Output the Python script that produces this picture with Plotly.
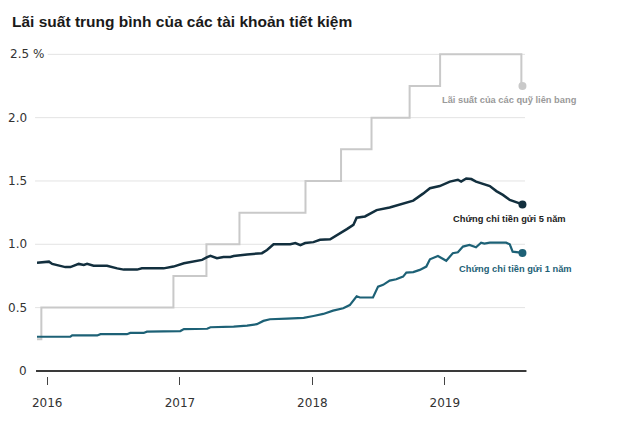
import plotly.graph_objects as go

# ---------------- data ----------------
fed_dates = ["2015-12-04", "2015-12-16", "2016-12-14", "2017-03-15", "2017-06-14",
             "2017-12-13", "2018-03-21", "2018-06-13", "2018-09-26", "2018-12-19",
             "2019-07-31", "2019-08-03"]
fed_values = [0.25, 0.50, 0.75, 1.00, 1.25, 1.50, 1.75, 2.00, 2.25, 2.50, 2.25, 2.25]

cd5_dates = ["2015-12-04", "2016-01-06", "2016-01-15", "2016-02-20", "2016-03-05",
             "2016-03-28", "2016-04-11", "2016-04-20", "2016-05-08", "2016-06-14",
             "2016-07-12", "2016-07-30", "2016-09-05", "2016-09-18", "2016-11-17",
             "2016-12-14", "2017-01-12", "2017-02-08", "2017-03-03", "2017-03-17",
             "2017-03-26", "2017-04-13", "2017-05-01", "2017-05-20", "2017-05-29",
             "2017-07-05", "2017-08-15", "2017-08-29", "2017-09-16", "2017-11-01",
             "2017-11-15", "2017-11-29", "2017-12-12", "2018-01-04", "2018-01-22",
             "2018-02-19", "2018-03-09", "2018-04-06", "2018-04-24", "2018-05-03",
             "2018-05-26", "2018-06-13", "2018-06-27", "2018-08-02", "2018-09-08",
             "2018-10-06", "2018-11-02", "2018-11-21", "2018-12-18", "2019-01-15",
             "2019-02-06", "2019-02-15", "2019-03-01", "2019-03-15", "2019-03-28",
             "2019-04-16", "2019-05-05", "2019-05-23", "2019-06-10", "2019-06-29",
             "2019-07-17", "2019-08-03"]
cd5_values = [0.855, 0.863, 0.845, 0.820, 0.820,
              0.845, 0.837, 0.845, 0.830, 0.830,
              0.810, 0.800, 0.800, 0.810, 0.810,
              0.824, 0.850, 0.863, 0.877, 0.898,
              0.908, 0.890, 0.900, 0.900, 0.908,
              0.920, 0.930, 0.955, 1.000, 1.000,
              1.010, 0.993, 1.010, 1.017, 1.035,
              1.040, 1.074, 1.120, 1.153, 1.210,
              1.220, 1.245, 1.270, 1.290, 1.320,
              1.345, 1.400, 1.443, 1.460, 1.495,
              1.510, 1.495, 1.520, 1.515, 1.495,
              1.480, 1.460, 1.420, 1.390, 1.350,
              1.330, 1.315]

cd1_dates = ["2015-12-04", "2016-03-05", "2016-03-10", "2016-05-18", "2016-05-27",
             "2016-08-08", "2016-08-17", "2016-09-23", "2016-10-02", "2017-01-02",
             "2017-01-12", "2017-03-17", "2017-03-26", "2017-05-20", "2017-05-29",
             "2017-07-05", "2017-08-01", "2017-08-19", "2017-09-06", "2017-10-23",
             "2017-12-08", "2018-01-04", "2018-01-31", "2018-02-27", "2018-03-27",
             "2018-04-14", "2018-05-03", "2018-05-12", "2018-06-17", "2018-07-01",
             "2018-07-15", "2018-08-02", "2018-08-20", "2018-09-08", "2018-09-17",
             "2018-10-06", "2018-10-24", "2018-11-11", "2018-11-21", "2018-12-13",
             "2019-01-05", "2019-01-23", "2019-02-06", "2019-02-20", "2019-03-10",
             "2019-03-28", "2019-04-11", "2019-04-20", "2019-05-05", "2019-06-19",
             "2019-06-29", "2019-07-07", "2019-07-21", "2019-08-03"]
cd1_values = [0.270, 0.270, 0.280, 0.280, 0.290,
              0.290, 0.300, 0.300, 0.310, 0.315,
              0.330, 0.333, 0.345, 0.345, 0.350,
              0.358, 0.369, 0.395, 0.408, 0.413,
              0.419, 0.434, 0.450, 0.476, 0.495,
              0.520, 0.590, 0.580, 0.580, 0.666,
              0.680, 0.713, 0.724, 0.745, 0.776,
              0.780, 0.798, 0.824, 0.882, 0.908,
              0.870, 0.930, 0.937, 0.982, 0.995,
              0.977, 1.013, 1.005, 1.013, 1.013,
              1.000, 0.942, 0.937, 0.932]

y_ticks = [0, 0.5, 1.0, 1.5, 2.0, 2.5]
y_tick_labels = ["0", "0.5", "1.0", "1.5", "2.0", "2.5 %"]
x_ticks = ["2016-01-01", "2017-01-01", "2018-01-01", "2019-01-01"]
x_tick_labels = ["2016", "2017", "2018", "2019"]

title_text = "Lãi suất trung bình của các tài khoản tiết kiệm"
fed_label = "Lãi suất của các quỹ liên bang"
cd5_label = "Chứng chỉ tiền gửi 5 năm"
cd1_label = "Chứng chỉ tiền gửi 1 năm"

# ---------------- styles ----------------
FED_C = "#c9c9c9"
CD5_C = "#122f3e"
CD1_C = "#1d6176"
GRID_C = "#e3e3e3"
TXT_C = "#333333"
FONT = "DejaVu Sans"
W, H = 622, 420  # page body has an 8px margin

fig = go.Figure()

fig.add_trace(go.Scatter(x=fed_dates, y=fed_values, mode="lines", line_shape="hv",
                         line=dict(color=FED_C, width=2), showlegend=False))
fig.add_trace(go.Scatter(x=cd1_dates, y=cd1_values, mode="lines",
                         line=dict(color=CD1_C, width=2.2), showlegend=False))
fig.add_trace(go.Scatter(x=cd5_dates, y=cd5_values, mode="lines",
                         line=dict(color=CD5_C, width=2.5), showlegend=False))

# end dots
for xs, ys, c in [(fed_dates, fed_values, FED_C), (cd5_dates, cd5_values, CD5_C),
                  (cd1_dates, cd1_values, CD1_C)]:
    fig.add_trace(go.Scatter(x=[xs[-1]], y=[ys[-1]], mode="markers",
                             marker=dict(color=c, size=8), showlegend=False, cliponaxis=False))

shapes = []
for v in y_ticks:
    if v == 0:
        continue
    x0 = 0.022 if v == 2.5 else -0.004
    shapes.append(dict(type="line", xref="paper", yref="y", x0=x0, x1=1, y0=v, y1=v,
                       line=dict(color=GRID_C, width=1), layer="below"))
shapes.append(dict(type="line", xref="paper", yref="y", x0=-0.002, x1=1.003, y0=0, y1=0,
                   line=dict(color="#3a3a3a", width=2)))

annotations = []
for v, t in zip(y_ticks, y_tick_labels):
    if t.endswith("%"):
        annotations.append(dict(x=0, xref="paper", y=v, yref="y", text=t, showarrow=False,
                                xanchor="left", xshift=-29, font=dict(size=12, color=TXT_C, family=FONT)))
    else:
        annotations.append(dict(x=0, xref="paper", y=v, yref="y", text=t, showarrow=False,
                                xanchor="right", xshift=-8, font=dict(size=12, color=TXT_C, family=FONT)))

annotations += [
    dict(x="2019-06-29", y=2.14, xref="x", yref="y", text="<b>" + fed_label + "</b>",
         showarrow=False, xanchor="center", font=dict(size=9.3, color="#9a9a9a", family="Liberation Sans")),
    dict(x="2019-06-29", y=1.20, xref="x", yref="y", text="<b>" + cd5_label + "</b>",
         showarrow=False, xanchor="center", font=dict(size=9.3, color="#222222", family="Liberation Sans")),
    dict(x="2019-07-15", y=0.806, xref="x", yref="y", text="<b>" + cd1_label + "</b>",
         showarrow=False, xanchor="center", font=dict(size=9.3, color=CD1_C, family="Liberation Sans")),
]

fig.update_layout(
    width=W, height=H,
    margin=dict(l=29, r=105, t=40, b=52),
    paper_bgcolor="white", plot_bgcolor="white",
    title=dict(text="<b>" + title_text + "</b>", x=4 / W, xanchor="left", xref="container",
               y=1 - 14 / H, yanchor="middle", yref="container",
               font=dict(size=15.5, color="#1a1a1a", family="Liberation Sans")),
    shapes=shapes, annotations=annotations,
    xaxis=dict(range=["2015-12-04", "2019-08-10"], tickvals=x_ticks, ticktext=x_tick_labels,
               showgrid=False, zeroline=False, showline=False,
               ticks="outside", ticklen=8, tickwidth=1, tickcolor="#444444",
               ticklabelstandoff=8,
               tickfont=dict(size=12, color=TXT_C, family=FONT)),
    yaxis=dict(range=[-0.04, 2.55], tickvals=y_ticks, showticklabels=False,
               showgrid=False, zeroline=False, showline=False),
    hovermode=False,
)

fig.write_html("out.html")
